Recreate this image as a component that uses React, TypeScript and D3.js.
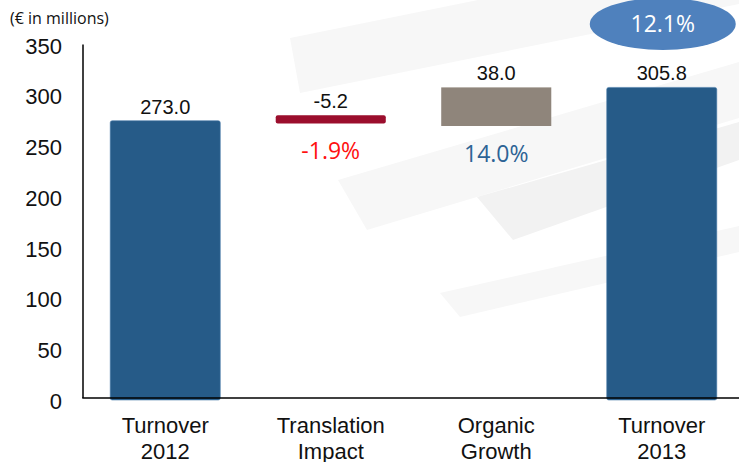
import React from "react";
import * as d3 from "d3";

const categories = ["Turnover 2012", "Translation Impact", "Organic Growth", "Turnover 2013"];
const labelLines = [["Turnover", "2012"], ["Translation", "Impact"], ["Organic", "Growth"], ["Turnover", "2013"]];
const values = [273.0, -5.2, 38.0, 305.8];
const kinds = ["total", "delta", "delta", "total"];
const pctLabels = ["", "-1.9%", "14.0%", ""];
const pctColors = ["", "#ff1010", "#2d6395", ""];
const totalGrowth = "12.1%";
const yTicks = [0, 50, 100, 150, 200, 250, 300, 350];
const unitLabel = "(€ in millions)";

const W = 739;
const H = 462;

const swooshes: { pts: [number, number][]; fill: string }[] = [
  { pts: [[290, 38], [478, 0], [739, 0], [739, 4], [300, 93]], fill: "#f7f7f7" },
  { pts: [[338, 180], [739, 62], [739, 118], [367, 230]], fill: "#f7f7f7" },
  { pts: [[477, 197], [739, 122], [739, 160], [513, 240]], fill: "#f2f2f2" },
  { pts: [[440, 293], [739, 226], [739, 252], [460, 317]], fill: "#f7f7f7" },
];

export default function App() {
  const x = d3
    .scaleBand<string>()
    .domain(categories)
    .range([82.5, 744.5])
    .paddingInner(0.335)
    .paddingOuter(0.1675);
  const y = d3.scaleLinear().domain([0, 350]).range([398, 42.5]);

  let running = 0;
  const bars = categories.map((c, i) => {
    let lo: number, hi: number;
    if (kinds[i] === "total") {
      lo = 0;
      hi = values[i];
      running = values[i];
    } else {
      const start = running;
      const end = running + values[i];
      lo = Math.min(start, end);
      hi = Math.max(start, end);
      running = end;
    }
    return { c, i, lo, hi, v: values[i] };
  });

  const sans = "'Liberation Sans', Arial, sans-serif";
  const pctFont = "'Open Sans', sans-serif";
  const line = d3.line();

  return (
    <svg width={W} height={H} style={{ position: "absolute", left: 0, top: 0, background: "#fff" }}>
      <rect x={0} y={0} width={W} height={H} fill="#fff" />
      {swooshes.map((s, k) => (
        <path key={k} d={line(s.pts) + "Z"} fill={s.fill} />
      ))}

      {bars.map((b) => {
        const bx = x(b.c)!;
        const bw = x.bandwidth();
        const cx = bx + bw / 2;
        let top = y(b.hi);
        let bottom = y(b.lo);
        let fill = "#265b88";
        let rx = 2;
        let stroke = "#4a7caa";
        if (b.i === 1) {
          fill = "#9b0e2d";
          top = top - 5.5;
          bottom = bottom - 2.5;
          stroke = "none";
        } else if (b.i === 2) {
          fill = "#8f857b";
          rx = 0;
          stroke = "none";
        } else {
          bottom = bottom + 2;
        }
        const valText = b.v.toFixed(1);
        return (
          <g key={b.c}>
            <rect x={bx} y={top} width={bw} height={bottom - top} fill={fill} rx={rx} stroke={stroke} strokeWidth={0.6} />
            <text x={cx} y={top - 7} textAnchor="middle" fontFamily={sans} fontSize={20} fill="#111">
              {valText}
            </text>
            {pctLabels[b.i] && (
              <text x={cx} y={bottom + 36} textAnchor="middle" fontFamily={pctFont} fontSize={23} fill={pctColors[b.i]}>
                {pctLabels[b.i]}
              </text>
            )}
            {labelLines[b.i].map((t, k) => (
              <text key={k} x={cx} y={433 + k * 26} textAnchor="middle" fontFamily={sans} fontSize={22} fill="#111">
                {t}
              </text>
            ))}
          </g>
        );
      })}

      {/* axes */}
      <line x1={83} x2={83} y1={y(350) + 2} y2={y(0)} stroke="#000" strokeWidth={1.5} />
      <line x1={82.25} x2={W} y1={y(0)} y2={y(0)} stroke="#000" strokeWidth={1.5} />
      {yTicks.map((t) => (
        <text key={t} x={62} y={y(t) + 11} textAnchor="end" fontFamily={sans} fontSize={22} fill="#111">
          {t}
        </text>
      ))}

      <text x={10} y={24} fontFamily={pctFont} fontSize={16} fill="#111">
        {unitLabel}
      </text>

      {/* total growth ellipse */}
      {(() => {
        const last = categories[categories.length - 1];
        const cx = x(last)! + x.bandwidth() / 2;
        return (
          <g>
            <ellipse cx={cx + 1} cy={24} rx={73} ry={26} fill="#4f81bd" />
            <text x={cx + 1} y={32} textAnchor="middle" fontFamily={pctFont} fontSize={23} fill="#fff">
              {totalGrowth}
            </text>
          </g>
        );
      })()}
    </svg>
  );
}
